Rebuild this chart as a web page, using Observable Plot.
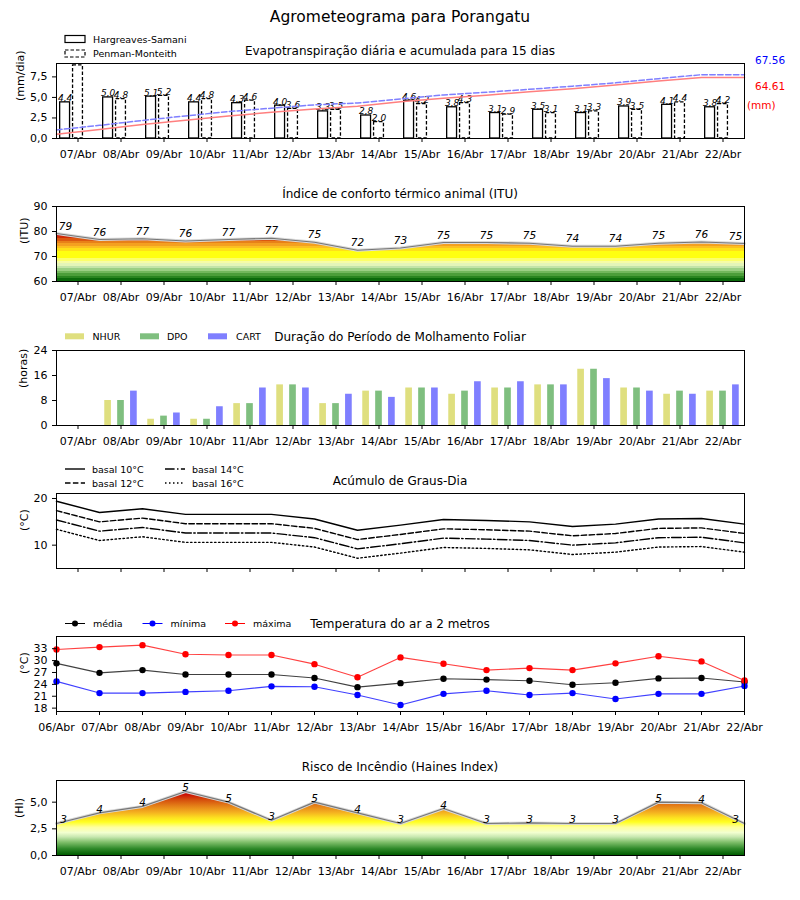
<!DOCTYPE html>
<html><head><meta charset="utf-8">
<script src="https://cdn.jsdelivr.net/npm/d3@7"></script>
<script src="https://cdn.jsdelivr.net/npm/@observablehq/plot@0.6"></script>
<style>
body{margin:0;background:white;}
#chart{position:relative;width:800px;height:900px;background:white;font-family:"DejaVu Sans",sans-serif;overflow:hidden;}
#chart svg{overflow:visible;}
</style></head><body><div id="chart"></div>
<script>
// ---------------- DATA ----------------
const datesDaily = ["07/Abr","08/Abr","09/Abr","10/Abr","11/Abr","12/Abr","13/Abr","14/Abr","15/Abr","16/Abr","17/Abr","18/Abr","19/Abr","20/Abr","21/Abr","22/Abr"];
const datesAll = ["06/Abr","07/Abr","08/Abr","09/Abr","10/Abr","11/Abr","12/Abr","13/Abr","14/Abr","15/Abr","16/Abr","17/Abr","18/Abr","19/Abr","20/Abr","21/Abr","22/Abr"];

const etHargreaves = [4.4,5.0,5.1,4.4,4.3,4.0,3.3,2.8,4.6,3.8,3.1,3.5,3.1,3.9,4.1,3.8];
const etPenman     = [8.9,4.8,5.2,4.8,4.6,3.6,3.5,2.0,4.2,4.3,2.9,3.1,3.3,3.5,4.4,4.2];
const etCumHargreaves = [4.6,9.6,14.8,19.3,23.7,27.8,31.2,34.1,38.8,42.7,45.9,49.5,52.7,56.7,60.8,64.61,64.61];
const etCumPenman     = [9.1,13.9,19.1,23.9,28.5,32.1,35.6,37.6,41.8,46.1,49.0,52.1,55.4,58.9,63.3,67.56,67.56];
const etTotalPenman = 67.56;
const etTotalHargreaves = 64.61;

const ituValues = [79.2,76.8,77.1,76.2,76.8,77.3,75.7,72.5,73.4,75.6,75.6,75.3,74.1,74.1,75.3,75.8,75.2];
const ituLabels = [79,76,77,76,77,77,75,72,73,75,75,75,74,74,75,76,75];

const wetNHUR = [0,8,2,2,7,13,7,11,12,10,12,13,18,12,10,11];
const wetDPO  = [0,8,3,2,7,13,7,11,12,11,12,13,18,12,11,11];
const wetCART = [0,11,4,6,12,12,10,9,12,14,14,13,15,11,10,13];

const gd10 = [19.4,17.0,17.8,16.6,16.6,16.6,15.6,13.2,14.3,15.5,15.3,15.0,14.0,14.5,15.6,15.7,14.5];
const gd12 = [17.4,15.0,15.8,14.6,14.6,14.6,13.6,11.2,12.3,13.5,13.3,13.0,12.0,12.5,13.6,13.7,12.5];
const gd14 = [15.4,13.0,13.8,12.6,12.6,12.6,11.6,9.2,10.3,11.5,11.3,11.0,10.0,10.5,11.6,11.7,10.5];
const gd16 = [13.4,11.0,11.8,10.6,10.6,10.6,9.6,7.2,8.3,9.5,9.3,9.0,8.0,8.5,9.6,9.7,8.5];

const tMax = [32.8,33.4,33.9,31.6,31.4,31.4,29.1,25.8,30.8,29.2,27.6,28.1,27.6,29.3,31.1,29.8,25.0];
const tMed = [29.3,26.9,27.6,26.5,26.5,26.5,25.6,23.3,24.3,25.4,25.2,24.9,23.9,24.4,25.5,25.6,24.6];
const tMin = [24.75,21.8,21.8,22.1,22.4,23.5,23.4,21.3,18.8,21.6,22.4,21.3,21.8,20.3,21.6,21.6,23.6];

const hainesValues = [3.0,4.0,4.6,6.0,5.0,3.3,5.0,4.0,3.0,4.4,3.0,3.05,3.0,3.0,5.0,4.95,3.0];
const hainesLabels = [3,4,4,5,5,3,5,4,3,4,3,3,3,3,5,4,3];

const etTicks = [0,2.5,5,7.5];
const ituTicks = [60,70,80,90];
const wetTicks = [0,8,16,24];
const gdTicks = [10,20];
const tTicks = [18,21,24,27,30,33];
const hiTicks = [0,2.5,5];

// ---------------- STYLE / LAYOUT ----------------
const FRAME_TOPS = [63, 206, 350, 493, 636, 780];
const FH = 75, MT = 20, MB = 32;
const xDomain = [-0.5, 15.5];
const dailyIdx = d3.range(datesDaily.length);
const allPos = d3.range(datesAll.length).map(k => k - 0.5);
const ET_YMAX = 9.13, ET_TWIN_MAX = 79.4;
const comma1 = d => d.toFixed(1).replace(".", ",");
const FONT = "DejaVu Sans";

const ituBands = [
  [60,61,"#0b6a0b"],[61,62,"#2a8520"],[62,63,"#4c9e3a"],[63,64,"#72b75c"],[64,65,"#9bcf84"],
  [65,66,"#c3e4a8"],[66,67,"#e4f5b8"],[67,68,"#f6fca6"],[68,69,"#fcff6a"],[69,72,"#ffff10"],
  [72,73,"#ffe018"],[73,74,"#fcc020"],[74,75,"#f4a020"],[75,76,"#e88018"],[76,77,"#dc5810"],
  [77,78,"#d02c06"],[78,90,"#c40000"]
];
const hiStops = [
  [0,"#005c00"],[0.6,"#2f8a2a"],[1.2,"#7fbf6a"],[1.7,"#c8e8b0"],[2.1,"#f2ffd0"],[2.6,"#ffffa0"],
  [3.1,"#ffff20"],[3.5,"#fce020"],[4.0,"#f4b020"],[4.6,"#e48018"],[5.2,"#d44c0c"],[5.8,"#c80000"],[7,"#c00000"]
];

function gradientMark(id, stops) {
  return (index, scales) => {
    const ns = "http://www.w3.org/2000/svg";
    const defs = document.createElementNS(ns, "defs");
    const lg = document.createElementNS(ns, "linearGradient");
    lg.setAttribute("id", id);
    lg.setAttribute("gradientUnits", "userSpaceOnUse");
    const v0 = stops[0][0], v1 = stops[stops.length - 1][0];
    lg.setAttribute("x1", 0); lg.setAttribute("x2", 0);
    lg.setAttribute("y1", scales.y(v0)); lg.setAttribute("y2", scales.y(v1));
    for (const [v, c] of stops) {
      const st = document.createElementNS(ns, "stop");
      st.setAttribute("offset", (v - v0) / (v1 - v0));
      st.setAttribute("stop-color", c);
      lg.appendChild(st);
    }
    defs.appendChild(lg);
    return defs;
  };
}
const ituStops = [];
for (const [lo, hi, c] of ituBands) { ituStops.push([lo, c]); ituStops.push([hi, c]); }

function baseOpts(o) {
  return Object.assign({
    width: 800, height: MT + FH + MB, marginTop: MT, marginBottom: MB, marginLeft: 56, marginRight: 56,
    style: {fontFamily: FONT, fontSize: "11px", background: "transparent", overflow: "visible", color: "black"}
  }, o);
}
function xAxis(pos, labels) {
  return Plot.axisX(pos, {tickSize: 4, tickPadding: 8, fontSize: 11, label: null,
    tickFormat: labels ? ((d, i) => labels[i]) : (() => "")});
}
function yAxis(ticks, fmt) {
  return Plot.axisY(ticks, {tickSize: 4, tickPadding: 5, fontSize: 11, label: null, tickFormat: fmt || (d => String(d))});
}
function yLabel(t, dx) {
  return Plot.text([t], {frameAnchor: "left", dx, rotate: -90, fontSize: 11, fill: "black"});
}
const frame = Plot.frame({stroke: "black", strokeWidth: 1});

const chart = document.getElementById("chart");
function place(el, frameTop) {
  el.style.position = "absolute"; el.style.left = "0px"; el.style.top = (frameTop - MT) + "px";
  chart.appendChild(el);
}

// ---------- Panel 1: ET ----------
const etW = 0.23;
place(Plot.plot(baseOpts({
  x: {domain: xDomain}, y: {domain: [0, ET_YMAX]},
  marks: [
    Plot.rect(etHargreaves, {x1: (d,i) => i - 0.3 - etW/2, x2: (d,i) => i - 0.3 + etW/2, y1: 0, y2: d => d, fill: "white", stroke: "black", strokeWidth: 1.3}),
    Plot.rect(etPenman, {x1: (d,i) => i - etW/2, x2: (d,i) => i + etW/2, y1: 0, y2: d => d, fill: "white", stroke: "black", strokeWidth: 1.3, strokeDasharray: "3.5,2"}),
    Plot.text(etHargreaves, {x: (d,i) => i - 0.3, y: d => d, text: comma1, lineAnchor: "bottom", dy: -1, fontStyle: "italic", fontSize: 9, filter: d => d < ET_YMAX - 0.8}),
    Plot.text(etPenman, {x: (d,i) => i, y: d => d, text: comma1, lineAnchor: "bottom", dy: -1, fontStyle: "italic", fontSize: 9, filter: d => d < ET_YMAX - 0.8}),
    Plot.line(etCumHargreaves, {x: (d,i) => i - 0.5, y: d => d * ET_YMAX / ET_TWIN_MAX, stroke: "#ff7f7f", strokeWidth: 1.5}),
    Plot.line(etCumPenman, {x: (d,i) => i - 0.5, y: d => d * ET_YMAX / ET_TWIN_MAX, stroke: "#7f7fff", strokeWidth: 1.5, strokeDasharray: "5.5,2.4"}),
    frame,
    xAxis(dailyIdx, datesDaily),
    yAxis(etTicks, comma1),
    yLabel("(mm/dia)", -36)
  ]
})), FRAME_TOPS[0]);

// ---------- Panel 2: ITU ----------
const ituText = {x: (d,i) => i - 0.5, y: (d,i) => ituValues[i], text: d => String(d), lineAnchor: "bottom", dy: -4, fontStyle: "italic", fontSize: 10.5};
place(Plot.plot(baseOpts({
  x: {domain: xDomain}, y: {domain: [60, 90]},
  marks: [
    gradientMark("ituGrad", ituStops),
    Plot.area(ituValues, {x1: (d,i) => i - 0.5, y1: 60, y2: d => d, fill: "url(#ituGrad)"}),
    Plot.line(ituValues, {x: (d,i) => i - 0.5, y: d => d, stroke: "#d8d8d8", strokeWidth: 3}),
    Plot.line(ituValues, {x: (d,i) => i - 0.5, y: d => d, stroke: "#777", strokeWidth: 1.2}),
    Plot.text(ituLabels, {...ituText, filter: (d,i) => i > 0 && i < ituLabels.length - 1}),
    Plot.text(ituLabels, {...ituText, dx: 9, filter: (d,i) => i === 0}),
    Plot.text(ituLabels, {...ituText, dx: -9, filter: (d,i) => i === ituLabels.length - 1}),
    frame,
    xAxis(dailyIdx, datesDaily),
    yAxis(ituTicks),
    yLabel("(ITU)", -32)
  ]
})), FRAME_TOPS[1]);

// ---------- Panel 3: wetting ----------
const wW = 0.155;
const wetSeries = [[wetNHUR, -0.3, "#dfdf7f"], [wetDPO, 0, "#7fbf7f"], [wetCART, 0.3, "#7f7fff"]];
place(Plot.plot(baseOpts({
  x: {domain: xDomain}, y: {domain: [0, 24]},
  marks: [
    ...wetSeries.map(([arr, off, col]) => Plot.rect(arr, {x1: (d,i) => i + off - wW/2, x2: (d,i) => i + off + wW/2, y1: 0, y2: d => d, fill: col})),
    frame,
    xAxis(dailyIdx, datesDaily),
    yAxis(wetTicks),
    yLabel("(horas)", -33)
  ]
})), FRAME_TOPS[2]);

// ---------- Panel 4: graus-dia ----------
const gdSeries = [[gd10, null], [gd12, "5.5,2.4"], [gd14, "9.6,2.4,1.5,2.4"], [gd16, "1.5,2.5"]];
place(Plot.plot(baseOpts({
  x: {domain: xDomain}, y: {domain: [5, 21.07]},
  marks: [
    ...gdSeries.map(([arr, dash]) => Plot.line(arr, {x: (d,i) => i - 0.5, y: d => d, stroke: "black", strokeWidth: 1.4, strokeDasharray: dash || undefined})),
    frame,
    xAxis(dailyIdx, null),
    yAxis(gdTicks),
    yLabel("(°C)", -32)
  ]
})), FRAME_TOPS[3]);

// ---------- Panel 5: temperatura ----------
const tSeries = [[tMed, "black"], [tMin, "blue"], [tMax, "red"]];
place(Plot.plot(baseOpts({
  x: {domain: xDomain}, y: {domain: [17.15, 36.08]},
  marks: [
    ...tSeries.map(([arr, col]) => Plot.line(arr, {x: (d,i) => i - 0.5, y: d => d, stroke: col, strokeWidth: 1.1, strokeOpacity: 0.75})),
    ...tSeries.map(([arr, col]) => Plot.dot(arr, {x: (d,i) => i - 0.5, y: d => d, fill: col, r: 3.2})),
    frame,
    xAxis(allPos, datesAll),
    yAxis(tTicks),
    yLabel("(°C)", -32)
  ]
})), FRAME_TOPS[4]);

// ---------- Panel 6: Haines ----------
const hiText = {x: (d,i) => i - 0.5, y: (d,i) => hainesValues[i], text: d => String(d), lineAnchor: "bottom", dy: 0, fontStyle: "italic", fontSize: 10.5};
place(Plot.plot(baseOpts({
  x: {domain: xDomain}, y: {domain: [0, 7.03]},
  marks: [
    gradientMark("hiGrad", hiStops),
    Plot.area(hainesValues, {x1: (d,i) => i - 0.5, y1: 0, y2: d => d, fill: "url(#hiGrad)"}),
    Plot.line(hainesValues, {x: (d,i) => i - 0.5, y: d => d, stroke: "#d8d8d8", strokeWidth: 3}),
    Plot.line(hainesValues, {x: (d,i) => i - 0.5, y: d => d, stroke: "#777", strokeWidth: 1.2}),
    Plot.text(hainesLabels, {...hiText, filter: (d,i) => i > 0 && i < hainesLabels.length - 1}),
    Plot.text(hainesLabels, {...hiText, dx: 7, filter: (d,i) => i === 0}),
    Plot.text(hainesLabels, {...hiText, dx: -9, filter: (d,i) => i === hainesLabels.length - 1}),
    frame,
    xAxis(dailyIdx, datesDaily),
    yAxis(hiTicks, comma1),
    yLabel("(HI)", -37)
  ]
})), FRAME_TOPS[5]);

// ---------- Overlay: titles, legends ----------
const titles = [
  ["Evapotranspiração diária e acumulada para 15 dias", 50.5],
  ["Índice de conforto térmico animal (ITU)", 194],
  ["Duração do Período de Molhamento Foliar", 337],
  ["Acúmulo de Graus-Dia", 480.5],
  ["Temperatura do ar a 2 metros", 624],
  ["Risco de Incêndio (Haines Index)", 767]
];
let ov = `<svg xmlns="http://www.w3.org/2000/svg" width="800" height="900" style="position:absolute;left:0;top:0;pointer-events:none;font-family:'${FONT}'">`;
ov += `<text x="400" y="17" font-size="15.5" text-anchor="middle" dominant-baseline="central">Agrometeograma para Porangatu</text>`;
for (const [t, y] of titles) ov += `<text x="400" y="${y}" font-size="12" text-anchor="middle" dominant-baseline="central">${t}</text>`;
// ET legend
ov += `<rect x="65" y="35.5" width="20" height="7" fill="white" stroke="black" stroke-width="1.2"/>`;
ov += `<text x="93" y="39" font-size="9.5" dominant-baseline="central">Hargreaves-Samani</text>`;
ov += `<rect x="65" y="50" width="20" height="7" fill="white" stroke="black" stroke-width="1.2" stroke-dasharray="3.5,2"/>`;
ov += `<text x="93" y="53.5" font-size="9.5" dominant-baseline="central">Penman-Monteith</text>`;
ov += `<text x="755" y="60" font-size="10.5" fill="blue" dominant-baseline="central">${etTotalPenman.toFixed(2)}</text>`;
ov += `<text x="755" y="86" font-size="10.5" fill="red" dominant-baseline="central">${etTotalHargreaves.toFixed(2)}</text>`;
ov += `<text x="747" y="105" font-size="10.5" fill="red" dominant-baseline="central">(mm)</text>`;
// wetting legend
const wl = [["NHUR", 65, 92.5, "#dfdf7f"], ["DPO", 140, 167, "#7fbf7f"], ["CART", 208, 236, "#7f7fff"]];
for (const [t, rx, tx, c] of wl) {
  ov += `<rect x="${rx}" y="333.3" width="19" height="6" fill="${c}"/>`;
  ov += `<text x="${tx}" y="336.5" font-size="9.5" dominant-baseline="central">${t}</text>`;
}
// GD legend
const gl = [["basal 10°C", 65, 469, null], ["basal 12°C", 65, 483, "5.5,2.4"], ["basal 14°C", 165, 469, "9.6,2.4,1.5,2.4"], ["basal 16°C", 165, 483, "1.5,2.5"]];
for (const [t, x, y, dash] of gl) {
  ov += `<line x1="${x}" x2="${x + 20}" y1="${y}" y2="${y}" stroke="black" stroke-width="1.4" ${dash ? `stroke-dasharray="${dash}"` : ""}/>`;
  ov += `<text x="${x + 27}" y="${y}" font-size="9.5" dominant-baseline="central">${t}</text>`;
}
// temp legend
const tl = [["média", 65, "black"], ["mínima", 142.5, "blue"], ["máxima", 225, "red"]];
for (const [t, x, c] of tl) {
  ov += `<line x1="${x}" x2="${x + 20}" y1="623.5" y2="623.5" stroke="${c}" stroke-width="1"/>`;
  ov += `<circle cx="${x + 10}" cy="623.5" r="3" fill="${c}"/>`;
  ov += `<text x="${x + 28}" y="623.5" font-size="9.5" dominant-baseline="central">${t}</text>`;
}
ov += `</svg>`;
const ovDiv = document.createElement("div");
ovDiv.innerHTML = ov;
chart.appendChild(ovDiv.firstChild);
</script>
</body></html>
